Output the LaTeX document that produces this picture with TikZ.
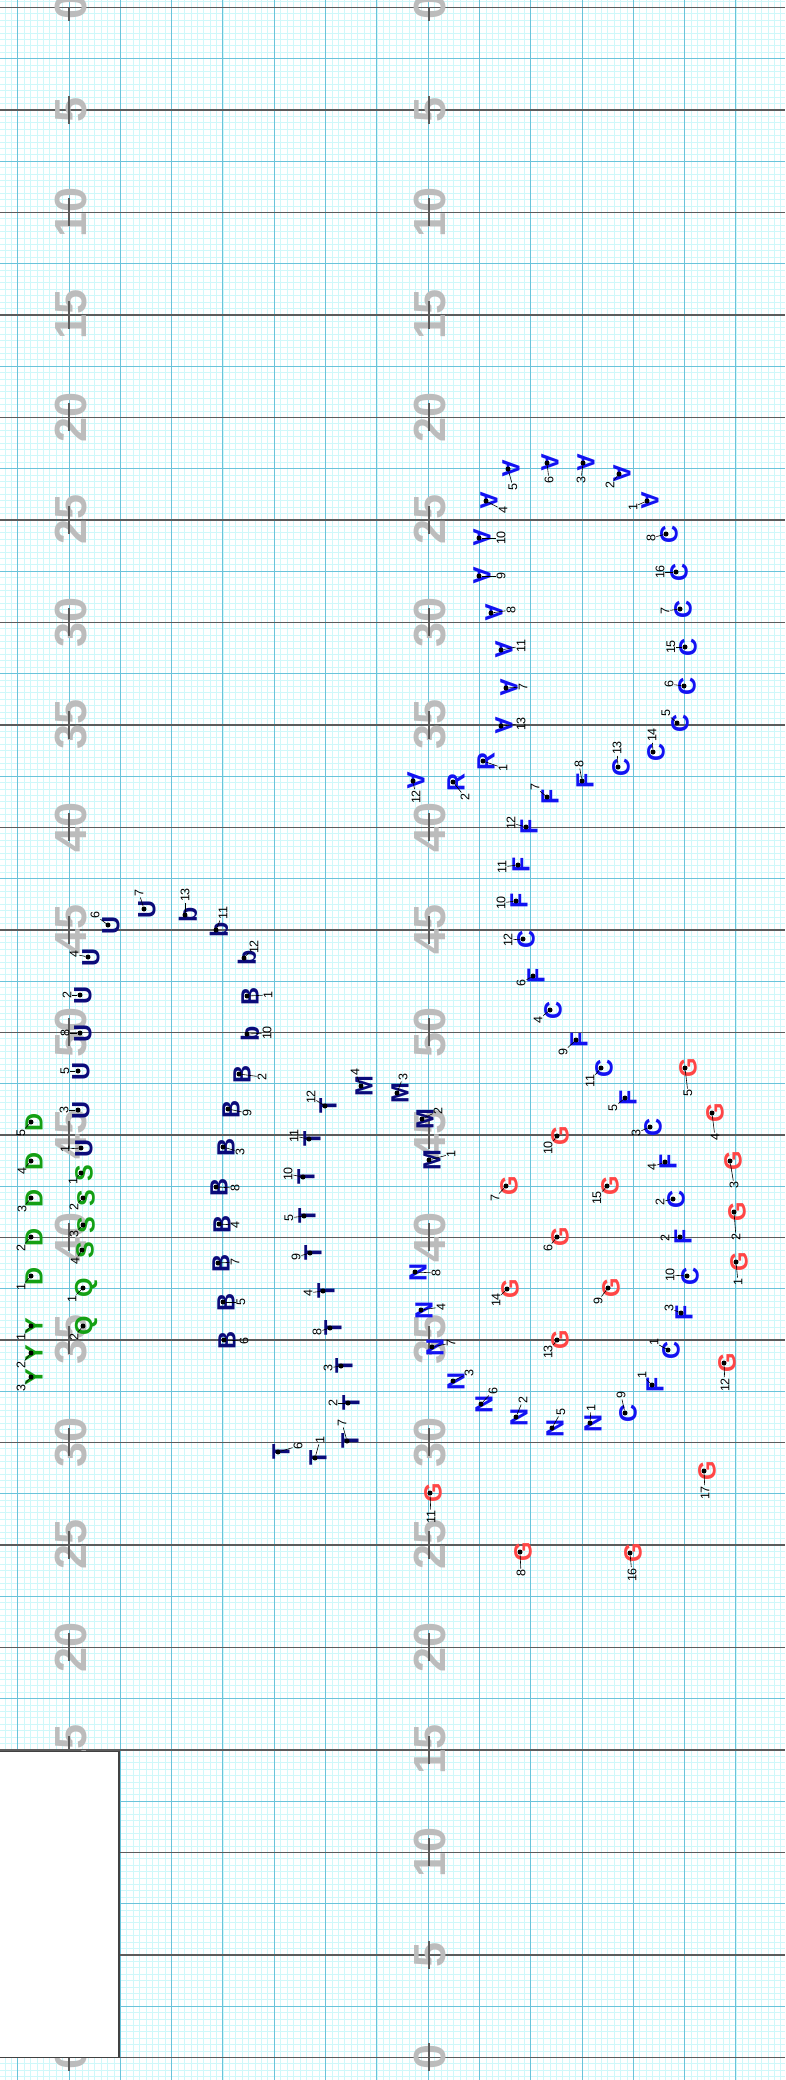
\documentclass[tikz,border=0pt]{standalone}
\usepackage{fontspec}
\setmainfont{Liberation Sans}
\usetikzlibrary{positioning}
\definecolor{FineGrid}{HTML}{CFF8FA}
\definecolor{MajorGrid}{HTML}{6AC3DA}
\definecolor{YardLine}{HTML}{5C5C5C}
\definecolor{YardNum}{HTML}{BCBCBC}
\definecolor{Brass}{HTML}{1212F2}
\definecolor{Navy}{HTML}{0B0B7A}
\definecolor{Perc}{HTML}{14A014}
\definecolor{Guard}{HTML}{FF4646}
\tikzset{
    dotpt/.style={circle, fill=black, inner sep=0pt, minimum size=5pt},
    letterpt/.style={font=\fontsize{25}{25}\selectfont\bfseries, inner sep=0pt},
    numlbl/.style={font=\fontsize{12.5}{12.5}\selectfont, rotate=90, inner sep=0.8pt},
    leaderln/.style={black, line width=0.6pt},
    yardnum/.style={font=\fontsize{45}{45}\selectfont\bfseries, text=YardNum, rotate=90, inner sep=0pt},
    yardtick/.style={YardLine, line width=2pt},
}
% one section: letter, colour, glyph rotation, list num/x/y/label x/label y
\newcommand{\drillset}[4]{%
  \foreach \n/\x/\y/\lx/\ly in {#4} {
    \node[letterpt, text=#2, rotate=#3] (#1\n-g) at ([xshift=3pt]\x,\y) {#1};
    \node[dotpt] (#1\n) at (\x,\y) {};
    \node[numlbl] (#1\n-l) at (\lx,\ly) {\n};
    \draw[leaderln] (#1\n) -- (#1\n-l);
  }
}

\begin{document}
\begin{tikzpicture}[x=1pt, y=-1pt]
    \useasboundingbox (0,0) rectangle (785,2080);
    \fill[white] (0,0) rectangle (785,2080);

    % Grid
    \foreach \k in {-2,...,120} \draw[FineGrid, line width=0.6pt] ({17.7+6.4125*\k},0) -- ++(0,2080);
    \foreach \k in {-1,...,323} \draw[FineGrid, line width=0.6pt] (0,{7.3+6.40625*\k}) -- ++(785,0);
    \foreach \k in {0,...,15} \draw[MajorGrid, line width=1pt] ({17.7+51.3*\k},0) -- ++(0,2080);
    \foreach \k in {0,...,40} \draw[MajorGrid, line width=1pt] (0,{7.3+51.25*\k}) -- ++(785,0);
    \foreach \k in {0,...,20} \draw[YardLine, line width=1.4pt] (0,{7.3+102.5*\k}) -- ++(785,0);

    % Yard numbers and ticks
    \foreach \k in {0,...,20} {
        \pgfmathtruncatemacro{\yd}{5*min(\k,20-\k)}
        \node[yardnum] (yl\k) at (71,{7.3+102.5*\k}) {\yd};
        \node[yardnum] (yr\k) at (430.5,{7.3+102.5*\k}) {\yd};
        \draw[yardtick] (69,{max(7.3,-6.7+102.5*\k)}) -- (69,{21.3+102.5*\k});
        \draw[yardtick] (428.6,{max(7.3,-6.7+102.5*\k)}) -- (428.6,{21.3+102.5*\k});
    }

    % Sections
    \drillset{A}{Brass}{-90}{1/647/501/633/507, 2/619/474/610/485, 3/583/463/581/480, 4/486/501/503/510, 5/508/469/513/487, 6/547/463/549/480, 7/506/688/523/687, 8/491/613/511/610, 9/479/576/501/576, 10/479/538/501/538, 11/501/650/521/646, 12/413/781/416/797, 13/501/726/521/724}
    \drillset{R}{Brass}{90}{1/483/761/503/768, 2/453/782/465/797}
    \drillset{F}{Brass}{90}{1/652/1385/642/1375, 2/680/1237/665/1238, 3/681/1313/669/1308, 4/665/1162/652/1167, 5/625/1098/613/1108, 6/533/976/521/983, 7/547/797/535/787, 8/582/781/579/764, 9/576/1040/563/1052, 10/516/901/501/903, 11/518/865/502/867, 12/526/827/511/823}
    \drillset{C}{Brass}{90}{1/668/1350/654/1342, 2/673/1199/660/1202, 3/650/1127/636/1133, 4/550/1010/538/1020, 5/677/723/666/713, 6/684/686/669/684, 7/680/609/665/611, 8/666/534/651/538, 9/625/1413/621/1395, 10/687/1276/670/1275, 11/601/1068/590/1081, 12/523/939/508/940, 13/618/767/617/748, 14/653/752/652/735, 15/685/647/671/647, 16/676/572/660/572}
    \drillset{N}{Brass}{90}{1/590/1423/591/1408, 2/516/1417/523/1400, 3/453/1381/469/1373, 4/421/1310/441/1307, 5/552/1428/561/1412, 6/481/1404/493/1391, 7/432/1347/451/1343, 8/415/1272/436/1273}
    \drillset{G}{Guard}{90}{1/736/1262/738/1282, 2/734/1212/736/1237, 3/730/1161/734/1185, 4/712/1113/715/1137, 5/685/1068/688/1093, 6/557/1237/548/1248, 7/506/1186/495/1198, 8/520/1552/521/1573, 9/608/1288/598/1301, 10/557/1136/548/1148, 11/430/1493/431/1517, 12/724/1363/725/1385, 13/557/1340/548/1352, 14/507/1289/496/1300, 15/607/1186/597/1198, 16/630/1553/632/1575, 17/704/1471/705/1493}
    \drillset{M}{Navy}{90}{1/429/1160/451/1154, 2/422/1119/438/1111, 3/397/1093/403/1077, 4/361/1086/355/1072}
    \drillset{T}{Navy}{90}{1/315/1458/320/1440, 2/348/1403/333/1403, 3/341/1366/328/1368, 4/323/1291/308/1293, 5/304/1216/289/1218, 6/278/1452/298/1446, 7/347/1441/342/1423, 8/330/1328/317/1332, 9/310/1253/296/1257, 10/303/1177/288/1174, 11/309/1139/294/1136, 12/325/1106/311/1097}
    \drillset{B}{Navy}{90}{1/247/996/268/995, 2/239/1074/262/1077, 3/223/1147/240/1152, 4/219/1224/235/1225, 5/223/1302/241/1302, 6/224/1340/244/1341, 7/218/1263/235/1262, 8/216/1187/235/1188, 9/228/1109/247/1113}
    \drillset{b}{Navy}{90}{10/247/1034/267/1033, 11/216/930/223/913, 12/244/958/254/947, 13/185/915/185/895}
    \drillset{U}{Navy}{90}{1/81/1148/65/1149, 2/80/995/67/995, 3/78/1110/64/1110, 4/88/957/74/954, 5/78/1071/65/1071, 6/108/925/95/915, 7/144/909/139/893, 8/80/1033/65/1033}
    \drillset{D}{Perc}{90}{1/31/1276/21/1287, 2/31/1237/21/1248, 3/31/1198/22/1209, 4/31/1161/22/1171, 5/31/1122/21/1133}
    \drillset{S}{Perc}{90}{1/81/1173/73/1181, 2/83/1198/74/1207, 3/83/1225/74/1234, 4/82/1250/75/1261}
    \drillset{Q}{Perc}{90}{1/83/1288/72/1299, 2/83/1326/74/1337}
    \drillset{Y}{Perc}{90}{1/31/1326/21/1337, 2/31/1353/21/1365, 3/31/1377/21/1388}

    % Box
    \draw[YardLine!70!black, line width=1.2pt, fill=white] (-5,1751.4) rectangle (119,2057.3);
\end{tikzpicture}
\end{document}
